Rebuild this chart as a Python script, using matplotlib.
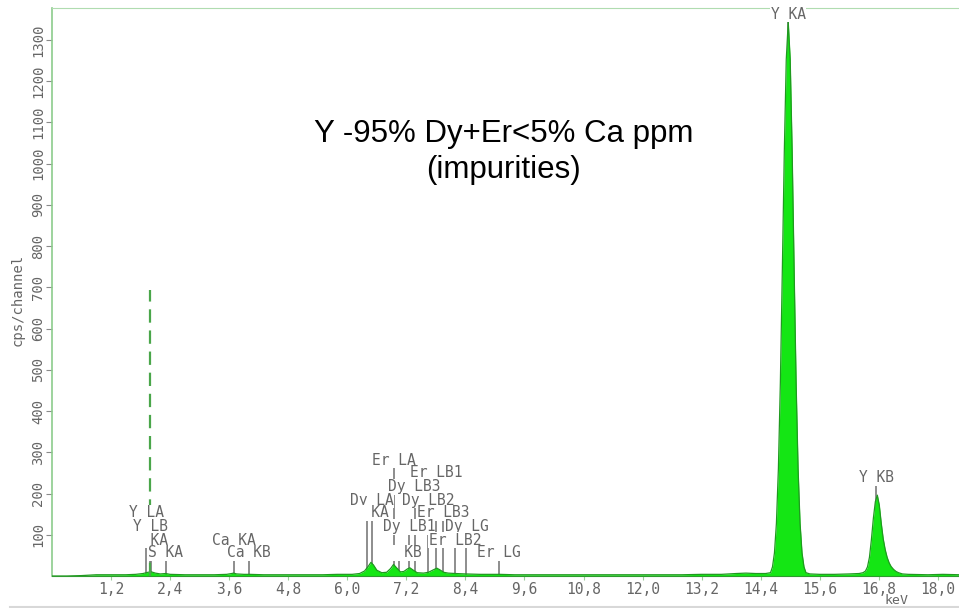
import matplotlib
matplotlib.use("Agg")
from matplotlib import pyplot as plt
from matplotlib.lines import Line2D

# spectrum (keV, counts)
energy_keV = [0.00, 0.30, 0.60, 0.90, 1.20, 1.50, 1.70, 1.85, 1.95, 2.02, 2.10, 2.20, 2.31, 2.40,
              2.70, 3.00, 3.30, 3.55, 3.65, 3.69, 3.75, 3.90, 4.02, 4.30, 4.60, 4.90, 5.20, 5.50,
              5.80, 6.10, 6.25, 6.35, 6.43, 6.48, 6.53, 6.60, 6.70, 6.80, 6.88, 6.94, 7.00, 7.08,
              7.15, 7.22, 7.27, 7.33, 7.42, 7.55, 7.65, 7.75, 7.82, 7.88, 7.96, 8.05, 8.20, 8.40,
              8.70, 9.00, 9.10, 9.40, 9.80, 10.4, 11.0, 11.6, 12.2, 12.8, 13.2, 13.6, 13.9, 14.1,
              14.3, 14.5, 14.60, 14.64, 14.68, 14.72, 14.76, 14.80, 14.84, 14.88, 14.92, 14.96,
              15.00, 15.04, 15.08, 15.12, 15.16, 15.20, 15.24, 15.28, 15.32, 15.40, 15.60, 15.90,
              16.20, 16.40, 16.48, 16.53, 16.57, 16.61, 16.65, 16.69, 16.73, 16.77, 16.81, 16.85,
              16.89, 16.93, 16.97, 17.01, 17.05, 17.10, 17.15, 17.20, 17.28, 17.40, 17.80, 18.10,
              18.45]
counts = [0, 0, 1, 3, 3, 3, 4, 6, 9, 10, 7, 5, 6, 4,
          3, 3, 3, 4, 6, 7, 5, 4, 4, 3, 3, 3, 3, 3,
          4, 4, 6, 12, 24, 33, 27, 14, 8, 9, 18, 28, 20, 10,
          11, 17, 20, 15, 8, 7, 9, 15, 19, 15, 9, 7, 6, 5,
          4, 4, 4, 3, 3, 3, 3, 3, 3, 3, 4, 4, 6, 7,
          6, 6, 8, 22, 56, 128, 260, 468, 740, 1027, 1252, 1343,
          1252, 1027, 740, 468, 260, 128, 56, 22, 8, 5, 4, 4,
          5, 6, 8, 12, 22, 45, 88, 140, 180, 196, 172, 128,
          90, 64, 45, 32, 23, 16, 11, 8, 5, 4, 3, 4,
          3]

# element markers: label, energy, label height (counts)
marker_labels = ["Y LA", "Y LB", "  KA", "S KA", "Ca KA", "Ca KB",
                 "Er LA", "Er LB1", "Dy LB3", "Dy LA", "Dy LB2", "   KA", "Er LB3",
                 "Dy LB1", "Dy LG", "Er LB2", "   KB", "Er LG", "Y KA", "Y KB"]
marker_keV = [1.92, 2.00, 2.01, 2.31, 3.69, 4.01,
              6.95, 7.81, 7.37, 6.50, 7.64, 6.40, 7.94,
              7.25, 8.42, 8.19, 7.06, 9.09, 14.96, 16.75]
marker_y = [153, 119, 87, 56, 87, 56,
            281, 250, 216, 184, 184, 153, 153,
            119, 119, 87, 56, 56, 1362, 238]

cursor_keV = 1.99
cursor_top = 693

xticks = [1.2, 2.4, 3.6, 4.8, 6.0, 7.2, 8.4, 9.6, 10.8, 12.0, 13.2, 14.4, 15.6, 16.8, 18.0]
yticks = [100, 200, 300, 400, 500, 600, 700, 800, 900, 1000, 1100, 1200, 1300]

mono = "DejaVu Sans Mono"
grey = "#666666"

fig = plt.figure(figsize=(9.59, 6.08), dpi=100)
ax = fig.add_axes([52 / 959, 32 / 608, 1 - 52 / 959, 568 / 608])
ax.set_xlim(0, 18.43)
ax.set_ylim(0, 1377)

# marker lines (behind spectrum)
for e, y in zip(marker_keV, marker_y):
    ax.plot([e, e], [0, y], color="#7a7a7a", lw=1.2, zorder=1)

ax.fill_between(energy_keV, counts, 0, color="#14e614", lw=0, zorder=2)
ax.plot(energy_keV, counts, color="#1f9a1f", lw=0.9, zorder=3)

ax.plot([cursor_keV, cursor_keV], [0, cursor_top], color="#4aa64a", lw=1.6,
        dashes=(6, 3.5), zorder=4)

for lab, e, y in zip(marker_labels, marker_keV, marker_y):
    ax.text(e, y, lab, family=mono, fontsize=10.5, color=grey, ha="center", va="center",
            zorder=5, bbox=dict(facecolor="white", edgecolor="none", pad=0.3))

ax.set_xticks(xticks)
ax.set_xticklabels([f"{t:.1f}".replace(".", ",") for t in xticks], family=mono,
                   fontsize=10.5, color=grey)
ax.set_yticks(yticks)
ax.set_yticklabels([str(t) for t in yticks], family=mono, fontsize=10, color=grey,
                   rotation=90, va="center")
ax.tick_params(axis="x", direction="out", length=3, color="#9ccf9c", pad=1)
ax.tick_params(axis="y", direction="out", length=4, color="#8a8a8a", pad=1)

ax.spines["right"].set_visible(False)
ax.spines["left"].set_color("#8ccc8c")
ax.spines["top"].set_color("#b0dcb0")
ax.spines["bottom"].set_color("#2e9a2e")
ax.spines["left"].set_linewidth(1.2)

fig.text(18 / 959, 1 - 300 / 608, "cps/channel", family=mono, fontsize=10, color=grey,
         rotation=90, ha="center", va="center")
fig.text(897 / 959, 1 / 608, "keV", family=mono, fontsize=9.5, color=grey,
         ha="center", va="bottom")

fig.text(504 / 959, 1 - 152 / 608, "Y -95% Dy+Er<5% Ca ppm\n(impurities)",
         family="Liberation Sans", fontsize=22.5, color="black", ha="center", va="center",
         multialignment="center", linespacing=1.27)

fig.add_artist(Line2D([10 / 959, 1], [1 / 608, 1 / 608], color="#d8d8d8", lw=1.5))

fig.savefig("out.png", dpi=100)
